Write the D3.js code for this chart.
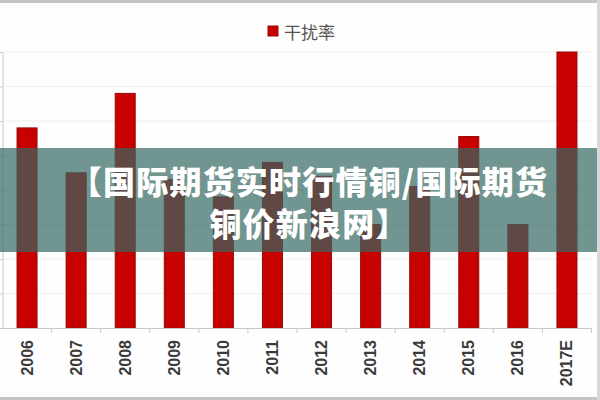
<!DOCTYPE html>
<html>
<head>
<meta charset="utf-8">
<script src="https://cdn.jsdelivr.net/npm/d3@7"></script>
<style>
  html, body { margin: 0; padding: 0; background: #ffffff; }
  svg { display: block; }
</style>
</head>
<body>
<svg id="chart" width="600" height="400"></svg>
<script>
// ---- data ----
const categories = ["2006", "2007", "2008", "2009", "2010", "2011", "2012", "2013", "2014", "2015", "2016", "2017E"];
const values = [5.8, 4.5, 6.8, 4.3, 3.8, 4.8, 4.4, 3.0, 4.1, 5.55, 3.0, 8.0];
const seriesName = "干扰率";
const yTicks = [0, 1, 2, 3, 4, 5, 6, 7, 8];
const titleLines = ["【国际期货实时行情铜/国际期货", "铜价新浪网】"];

// ---- layout ----
const W = 600, H = 400;
const plot = { left: 2.5, right: 591.5, top: 52, bottom: 328 };

const svg = d3.select("#chart");

svg.append("rect").attr("x", 0).attr("y", 0).attr("width", W).attr("height", H).attr("fill", "#fefefe");

const x = d3.scaleBand().domain(categories).range([plot.left, plot.right]).padding(0);
const y = d3.scaleLinear().domain([0, 8]).range([plot.bottom, plot.top]);

// gridlines
svg.append("g")
  .selectAll("line")
  .data(yTicks.slice(1))
  .join("line")
  .attr("x1", plot.left).attr("x2", plot.right)
  .attr("y1", d => y(d)).attr("y2", d => y(d))
  .attr("stroke", "#eeeeee").attr("stroke-width", 1);

// y axis (labels cut off on the left)
const yAxis = svg.append("g")
  .attr("transform", `translate(${plot.left},0)`)
  .call(d3.axisLeft(y).tickValues(yTicks).tickSize(4).tickFormat(""));
yAxis.selectAll("path, line").attr("stroke", "#c8c8c8");

// bars
const barW = 20;
svg.append("g")
  .selectAll("rect")
  .data(values)
  .join("rect")
  .attr("x", (d, i) => x(categories[i]) + x.bandwidth() / 2 - barW / 2)
  .attr("y", d => y(d))
  .attr("width", barW)
  .attr("height", d => y(0) - y(d))
  .attr("fill", "#c70000")
  .attr("stroke", "#960a0a")
  .attr("stroke-width", 1);

// x axis with ticks between categories
const xg = svg.append("g").attr("transform", `translate(0,${plot.bottom})`);
xg.append("line")
  .attr("x1", plot.left).attr("x2", plot.right)
  .attr("y1", 0.5).attr("y2", 0.5)
  .attr("stroke", "#c8c8c8");
xg.selectAll("line.tick")
  .data(categories)
  .join("line")
  .attr("class", "tick")
  .attr("x1", d => x(d) + x.step())
  .attr("x2", d => x(d) + x.step())
  .attr("y1", 0).attr("y2", 5)
  .attr("stroke", "#c8c8c8");
xg.selectAll("text")
  .data(categories)
  .join("text")
  .attr("transform", d => `translate(${x(d) + x.bandwidth() / 2},12) rotate(-90)`)
  .attr("text-anchor", "end")
  .attr("dominant-baseline", "central")
  .attr("font-family", "'Liberation Sans', Arial, sans-serif")
  .attr("font-weight", "bold")
  .attr("font-size", 16)
  .attr("fill", "#3a3a3a")
  .text(d => d);

// legend
const lg = svg.append("g");
lg.append("rect").attr("x", 268).attr("y", 26).attr("width", 10).attr("height", 10)
  .attr("fill", "#c70000").attr("stroke", "#960a0a");
lg.append("text").attr("x", 284).attr("y", 31)
  .attr("dominant-baseline", "central")
  .attr("font-family", "'Noto Sans CJK SC', sans-serif")
  .attr("font-size", 17)
  .attr("fill", "#555555")
  .text(seriesName);

// overlay band and title
svg.append("rect").attr("x", 0).attr("y", 148).attr("width", W).attr("height", 104)
  .attr("fill", "rgb(52,104,97)").attr("fill-opacity", 0.7);
svg.append("g")
  .selectAll("text")
  .data(titleLines)
  .join("text")
  .attr("x", 309)
  .attr("y", (d, i) => 180 + i * 42)
  .attr("text-anchor", "middle")
  .attr("dominant-baseline", "central")
  .attr("font-family", "'Noto Sans CJK SC', sans-serif")
  .attr("font-weight", 900)
  .attr("font-size", 32)
  .attr("letter-spacing", 1.2)
  .attr("fill", "#ffffff")
  .text(d => d);

// screenshot frame
svg.append("rect").attr("x", 0).attr("y", 0).attr("width", W).attr("height", 3).attr("fill", "#c4c4c4");
svg.append("rect").attr("x", 0).attr("y", 397).attr("width", W).attr("height", 3).attr("fill", "#c4c4c4");
svg.append("rect").attr("x", 597).attr("y", 0).attr("width", 3).attr("height", H).attr("fill", "#d8d8d8");
</script>
</body>
</html>
